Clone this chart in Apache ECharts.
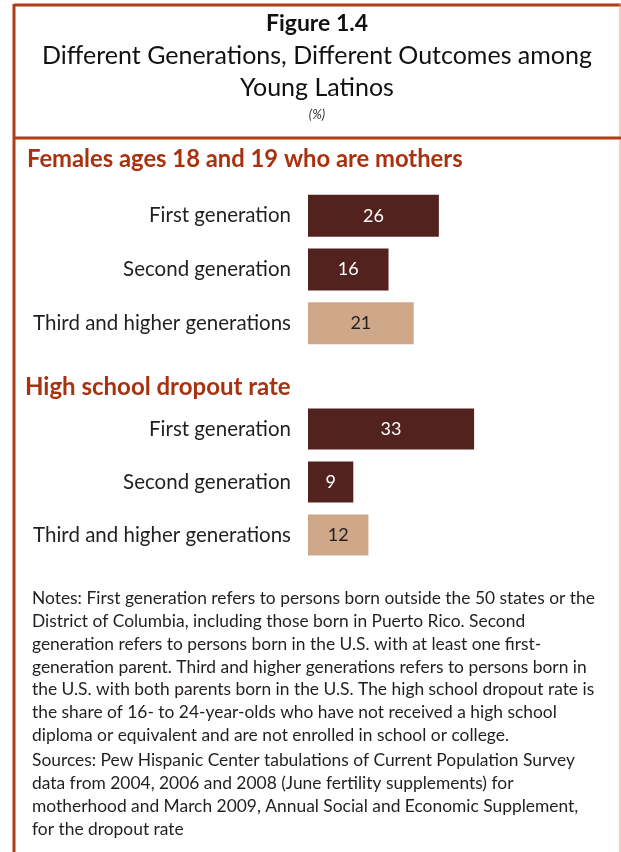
<!DOCTYPE html>
<html>
<head>
<meta charset="utf-8">
<title>Figure 1.4</title>
<script src="https://cdn.jsdelivr.net/npm/echarts@6/dist/echarts.min.js"></script>
<style>
  html, body { margin: 0; padding: 0; background: #fff; }
  #main { width: 621px; height: 852px; }
</style>
</head>
<body>
<div id="main"></div>
<script>
  // data
  var categories = ['First generation', 'Second generation', 'Third and higher generations'];
  var motherValues = [26, 16, 21];
  var dropoutValues = [33, 9, 12];
  var barColors = ['#52221e', '#52221e', '#cfa88a'];
  var labelColors = ['#ffffff', '#ffffff', '#231f20'];

  var titleLines = ['Different Generations, Different Outcomes among', 'Young Latinos'];
  var noteLines = [
    'Notes: First generation refers to persons born outside the 50 states or the',
    'District of Columbia, including those born in Puerto Rico. Second',
    'generation refers to persons born in the U.S. with at least one first-',
    'generation parent. Third and higher generations refers to persons born in',
    'the U.S. with both parents born in the U.S. The high school dropout rate is',
    'the share of 16- to 24-year-olds who have not received a high school',
    'diploma or equivalent and are not enrolled in school or college.'
  ];
  var sourceLines = [
    'Sources: Pew Hispanic Center tabulations of Current Population Survey',
    'data from 2004, 2006 and 2008 (June fertility supplements) for',
    'motherhood and March 2009, Annual Social and Economic Supplement,',
    'for the dropout rate'
  ];

  var FONT = 'Lato, "Open Sans", sans-serif';
  var RED = '#b23c17';
  var MID = 317; // centre of the framed box

  function barData(vals) {
    return vals.map(function (v, i) {
      return {
        value: v,
        itemStyle: { color: barColors[i] },
        label: { color: labelColors[i] }
      };
    });
  }

  function textLines(lines, x, y0, step) {
    return lines.map(function (t, i) {
      return {
        type: 'text',
        left: x,
        top: y0 + i * step,
        style: { text: t, fill: '#231f20', font: '17.4px ' + FONT }
      };
    });
  }

  function centred(t, y, font, fill) {
    return {
      type: 'text', x: MID, y: y,
      style: { text: t, fill: fill, font: font, align: 'center', verticalAlign: 'top' }
    };
  }

  var chart = echarts.init(document.getElementById('main'));

  var graphics = [
    // frame
    { type: 'line', shape: { x1: 14, y1: 5, x2: 621, y2: 5 }, style: { stroke: RED, lineWidth: 3 } },
    { type: 'line', shape: { x1: 14, y1: 4, x2: 14, y2: 852 }, style: { stroke: RED, lineWidth: 3 } },
    { type: 'line', shape: { x1: 620, y1: 4, x2: 620, y2: 852 }, style: { stroke: '#e0a08a', lineWidth: 1 } },
    { type: 'line', shape: { x1: 14, y1: 138, x2: 621, y2: 138 }, style: { stroke: RED, lineWidth: 3 } },
    // heading
    centred('Figure 1.4', 12, 'bold 23px ' + FONT, '#111'),
    centred(titleLines[0], 43, '25px ' + FONT, '#111'),
    centred(titleLines[1], 75, '25px ' + FONT, '#111'),
    centred('(%)', 108, 'italic 13px ' + FONT, '#333'),
    // section titles
    { type: 'text', left: 27, top: 147, style: { text: 'Females ages 18 and 19 who are mothers', fill: '#a8320f', font: 'bold 23.8px ' + FONT } },
    { type: 'text', left: 25, top: 375, style: { text: 'High school dropout rate', fill: '#a8320f', font: 'bold 24px ' + FONT } }
  ]
    .concat(textLines(noteLines, 32, 590, 22.8))
    .concat(textLines(sourceLines, 32, 752, 23));

  var axisLabelStyle = { fontSize: 20.5, color: '#231f20', fontFamily: FONT, margin: 17 };

  var option = {
    animation: false,
    backgroundColor: '#ffffff',
    grid: [
      { left: 308, top: 189, width: 302, height: 161 },
      { left: 308, top: 402.5, width: 302, height: 159 }
    ],
    xAxis: [
      { gridIndex: 0, type: 'value', min: 0, max: 60, show: false, splitLine: { show: false } },
      { gridIndex: 1, type: 'value', min: 0, max: 60, show: false, splitLine: { show: false } }
    ],
    yAxis: [
      {
        gridIndex: 0, type: 'category', inverse: true, data: categories,
        axisLine: { show: false }, axisTick: { show: false }, axisLabel: axisLabelStyle
      },
      {
        gridIndex: 1, type: 'category', inverse: true, data: categories,
        axisLine: { show: false }, axisTick: { show: false }, axisLabel: axisLabelStyle
      }
    ],
    series: [
      {
        name: 'Mothers', type: 'bar', xAxisIndex: 0, yAxisIndex: 0,
        barWidth: 42, data: barData(motherValues),
        label: { show: true, position: 'inside', fontSize: 18, fontFamily: FONT }
      },
      {
        name: 'Dropout', type: 'bar', xAxisIndex: 1, yAxisIndex: 1,
        barWidth: 41, data: barData(dropoutValues),
        label: { show: true, position: 'inside', fontSize: 18, fontFamily: FONT }
      }
    ],
    graphic: graphics
  };

  chart.setOption(option);
</script>
</body>
</html>
